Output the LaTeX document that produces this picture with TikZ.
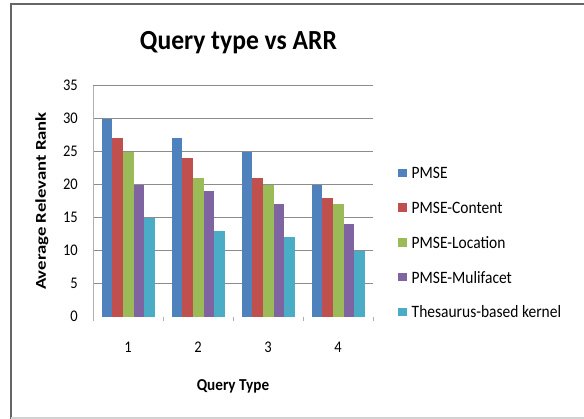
\documentclass[tikz,border=0pt]{standalone}
\usepackage{fontspec}
\setmainfont{Carlito}
\definecolor{sblue}{HTML}{4F81BD}
\definecolor{sred}{HTML}{C0504D}
\definecolor{sgreen}{HTML}{9BBB59}
\definecolor{spurple}{HTML}{8064A2}
\definecolor{scyan}{HTML}{4BACC6}
\definecolor{gridc}{HTML}{8C8C8C}
\begin{document}
\begin{tikzpicture}[x=1pt,y=-1pt,
  grid/.style={draw=gridc,line width=0.8pt},
  tick/.style={draw=gridc!70,line width=0.6pt},
  ylab/.style={anchor=east,font=\fontsize{14.5}{14.5}\selectfont,inner sep=0pt},
  xlab/.style={anchor=center,font=\fontsize{14.5}{14.5}\selectfont,inner sep=0pt},
  legtext/.style={anchor=west,font=\fontsize{15.5}{15.5}\selectfont,inner sep=0pt},
  legbox/.style={minimum size=8.5pt,inner sep=0pt,draw=none}]
\useasboundingbox (0,0) rectangle (584,419);
\fill[white] (0,0) rectangle (584,419);
% frame
\draw[gray!80!black,line width=1.6pt] (11,419) -- (11,4) -- (584,4);
\draw[gray!35,line width=1.2pt] (11,418) -- (584,418);
% title
\node[font=\fontsize{25.6}{25.6}\selectfont\bfseries] (title) at (238.5,43) {\scalebox{1}[1.08]{Query type vs ARR}};
% gridlines and y labels
\foreach \v in {0,5,...,35}{
  \pgfmathsetmacro{\yy}{316.7-\v*6.6}
  \ifnum\v>0 \draw[grid] (93,\yy) -- (373,\yy);\fi
  \node[ylab] (yl\v) at (78,\yy) {\scalebox{1}[1.12]{\v}};
}
\draw[tick] (93,85.7) -- (93,320);
\foreach \i in {0,...,4}{
  \draw[tick] (93+\i*70,316.7) -- (93+\i*70,321);
}
% bars
\def\bw{10.6}
\foreach \g/\a/\b/\c/\d/\e in {0/30/27/25/20/15,1/27/24/21/19/13,2/25/21/20/17/12,3/20/18/17/14/10}{
  \pgfmathsetmacro{\x}{101.7+\g*70}
  \foreach \k/\val/\col in {0/\a/sblue,1/\b/sred,2/\c/sgreen,3/\d/spurple,4/\e/scyan}{
    \fill[\col] ({\x+\k*\bw},316.7) rectangle ({\x+(\k+1)*\bw},{316.7-\val*6.6});
  }
  \node[xlab] (xl\g) at (128+\g*70,347) {\scalebox{1}[1.12]{\pgfmathparse{int(\g+1)}\pgfmathresult}};
}
% axis titles
\node[font=\fontsize{15.2}{15.2}\selectfont\bfseries] (xt) at (233,386) {\scalebox{1}[1.1]{Query Type}};
\node[font=\fontsize{15}{15}\selectfont\bfseries,rotate=90] (yt) at (42,201) {\scalebox{1.25}[1]{Average Relevant Rank}};
% legend
\foreach \n/\col/\txt [count=\r from 0] in {a/sblue/PMSE,b/sred/PMSE-Content,c/sgreen/PMSE-Location,d/spurple/PMSE-Mulifacet,e/scyan/Thesaurus-based kernel}{
  \node[legbox,fill=\col] (lb\n) at (402.5,{173+\r*34.7}) {};
  \node[legtext] (lt\n) at (411.5,{173+\r*34.7}) {\scalebox{1}[1.12]{\txt}};
}
\end{tikzpicture}
\end{document}
